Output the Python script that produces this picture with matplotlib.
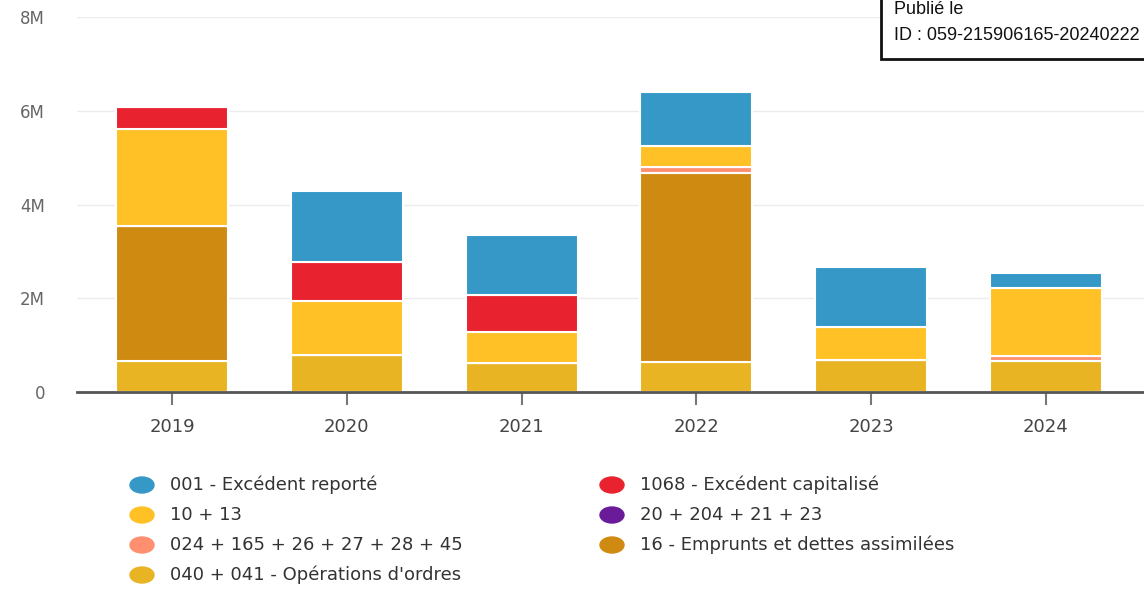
import matplotlib.pyplot as plt
from matplotlib.patches import Ellipse, Rectangle
from matplotlib.ticker import FuncFormatter
import numpy as np

# values in millions of euros
years = ['2019', '2020', '2021', '2022', '2023', '2024']
ordres_040 = [0.66, 0.80, 0.62, 0.64, 0.68, 0.66]
emprunts_16 = [2.88, 0.0, 0.0, 4.03, 0.0, 0.0]
divers_024 = [0.0, 0.0, 0.0, 0.13, 0.0, 0.10]
immos_20 = [0.0, 0.0, 0.0, 0.0, 0.0, 0.0]
dotations_10 = [2.07, 1.15, 0.65, 0.45, 0.70, 1.45]
capitalise_1068 = [0.48, 0.82, 0.81, 0.0, 0.0, 0.0]
reporte_001 = [0.0, 1.52, 1.26, 1.15, 1.28, 0.32]

# stacking order, bottom to top
series = [
    ('040 + 041 - Opérations d\'ordres', ordres_040, '#e8b423'),
    ('16 - Emprunts et dettes assimilées', emprunts_16, '#cf8a12'),
    ('024 + 165 + 26 + 27 + 28 + 45', divers_024, '#ff8f6e'),
    ('20 + 204 + 21 + 23', immos_20, '#6a1b9a'),
    ('10 + 13', dotations_10, '#ffc125'),
    ('1068 - Excédent capitalisé', capitalise_1068, '#e8232f'),
    ('001 - Excédent reporté', reporte_001, '#3598c6'),
]
# legend layout: rows as in the original (left, right)
legend_rows = [
    ('001 - Excédent reporté', '1068 - Excédent capitalisé'),
    ('10 + 13', '20 + 204 + 21 + 23'),
    ('024 + 165 + 26 + 27 + 28 + 45', '16 - Emprunts et dettes assimilées'),
    ('040 + 041 - Opérations d\'ordres', None),
]

W, H = 1144, 589
fig = plt.figure(figsize=(W / 100, H / 100), dpi=100)
plt.rcParams['font.family'] = 'DejaVu Sans'

ax = fig.add_axes([77 / W, (H - 392) / H, 1 - 77 / W, 375 / H])
x = np.arange(len(years))
bottom = np.zeros(len(years))
for name, vals, color in series:
    v = np.array(vals) * 1e6
    ax.bar(x, v, 0.64, bottom=bottom, color=color, edgecolor='white',
           linewidth=1.5, zorder=3)
    bottom += v

ax.set_xlim(-0.5435, 5.561)
ax.set_ylim(0, 8e6)
ax.set_yticks([0, 2e6, 4e6, 6e6, 8e6])
ax.yaxis.set_major_formatter(FuncFormatter(lambda v, p: '0' if v == 0 else f'{v / 1e6:.0f}M'))
ax.set_xticks(x)
ax.set_xticklabels(years)
ax.grid(axis='y', color='#ececec', linewidth=1, zorder=0)
for s in ['top', 'right', 'left']:
    ax.spines[s].set_visible(False)
ax.spines['bottom'].set_color('#555555')
ax.spines['bottom'].set_linewidth(2)
ax.spines['bottom'].set_zorder(4)
ax.tick_params(axis='y', length=0, pad=23, labelsize=12, labelcolor='#666666')
ax.tick_params(axis='x', length=9, width=1.5, color='#777777', pad=10,
               labelsize=13, labelcolor='#444444')

# overlay in pixel coordinates for legend and stamp box
ov = fig.add_axes([0, 0, 1, 1], zorder=5)
ov.set_xlim(0, W)
ov.set_ylim(H, 0)
ov.axis('off')

colors = {name: color for name, _, color in series}
cols_x = [142, 612]
for r, row in enumerate(legend_rows):
    y = 485 + r * 30
    for c, name in enumerate(row):
        if name is None:
            continue
        ov.add_patch(Ellipse((cols_x[c], y), 24, 16, color=colors[name]))
        ov.text(cols_x[c] + 28, y, name, fontsize=13, color='#333333',
                va='center', ha='left')

ov.add_patch(Rectangle((881, -10), 300, 69, facecolor='white',
                       edgecolor='#111111', linewidth=2))
ov.text(894, 9, 'Publié le', fontsize=13, color='#111111', va='center',
        family='Liberation Sans')
ov.text(894, 35, 'ID : 059-215906165-20240222', fontsize=13, color='#111111',
        va='center', family='Liberation Sans')

fig.savefig('out.png', dpi=100)
